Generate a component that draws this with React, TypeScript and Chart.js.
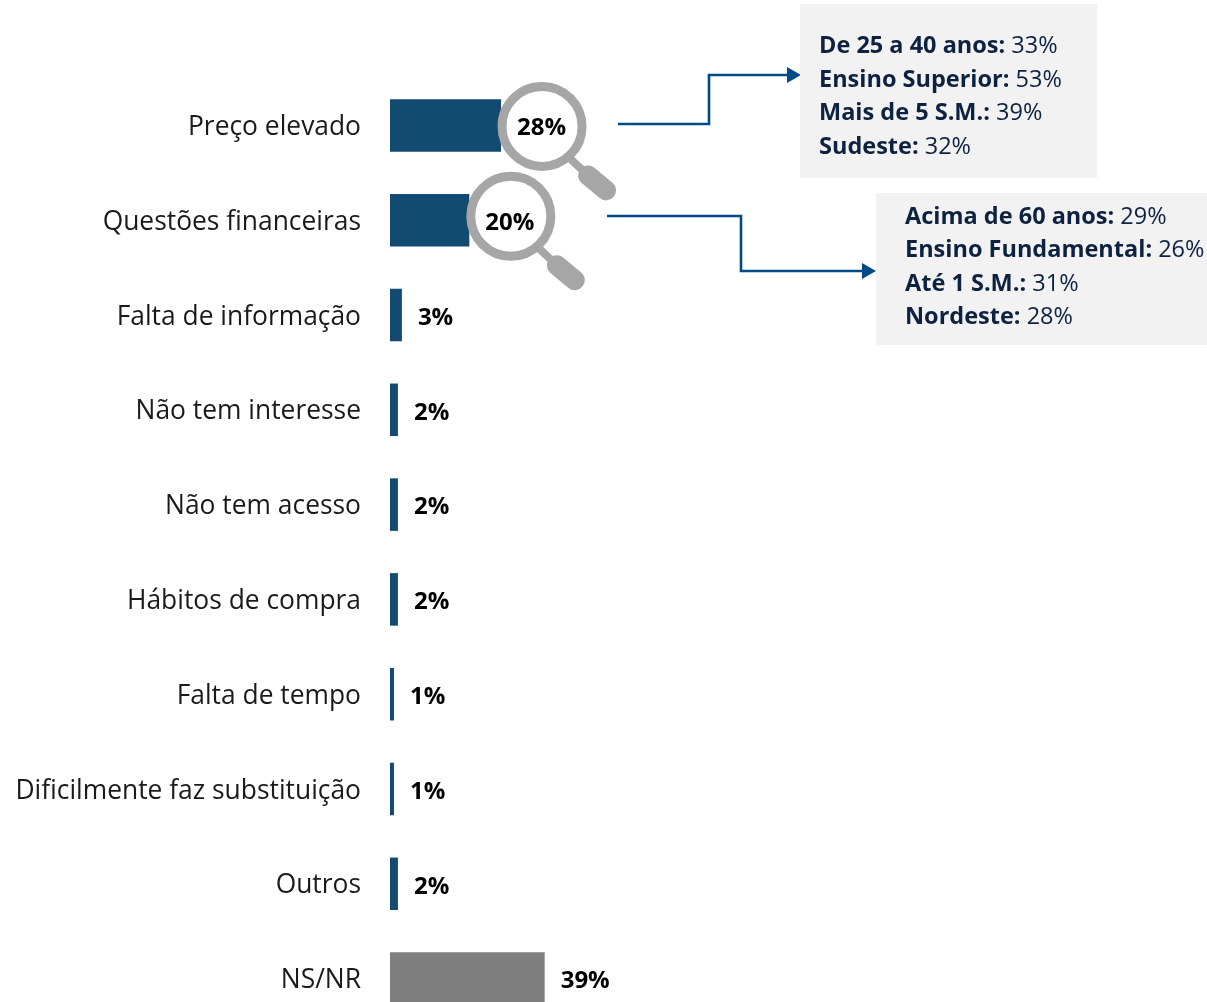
import React, { useEffect, useRef } from "react";
import { Chart, registerables } from "chart.js";

Chart.register(...registerables);

const categories = ["Preço elevado", "Questões financeiras", "Falta de informação", "Não tem interesse", "Não tem acesso", "Hábitos de compra", "Falta de tempo", "Dificilmente faz substituição", "Outros", "NS/NR"];
const values = [28, 20, 3, 2, 2, 2, 1, 1, 2, 39];
const valueLabels = ["28%", "20%", "3%", "2%", "2%", "2%", "1%", "1%", "2%", "39%"];
const barColors = ["#124a72", "#124a72", "#124a72", "#124a72", "#124a72", "#124a72", "#124a72", "#124a72", "#124a72", "#7f7f7f"];
const firstCallout = [["De 25 a 40 anos:", " 33%"], ["Ensino Superior:", " 53%"], ["Mais de 5 S.M.:", " 39%"], ["Sudeste:", " 32%"]];
const secondCallout = [["Acima de 60 anos:", " 29%"], ["Ensino Fundamental:", " 26%"], ["Até 1 S.M.:", " 31%"], ["Nordeste:", " 28%"]];

const FONT = '"Open Sans"';
const INK = "#0d2240";
const LINK = "#004b87";

function magnifier(ctx: CanvasRenderingContext2D, cx: number, cy: number) {
  ctx.save();
  ctx.strokeStyle = "#a6a6a6";
  ctx.fillStyle = "#ffffff";
  ctx.lineWidth = 9;
  ctx.beginPath();
  ctx.arc(cx, cy, 40, 0, Math.PI * 2);
  ctx.fill();
  ctx.stroke();
  ctx.lineCap = "round";
  ctx.lineWidth = 8;
  ctx.beginPath();
  ctx.moveTo(cx + 30, cy + 34);
  ctx.lineTo(cx + 46, cy + 49);
  ctx.stroke();
  ctx.lineWidth = 20;
  ctx.beginPath();
  ctx.moveTo(cx + 46, cy + 49);
  ctx.lineTo(cx + 64, cy + 64);
  ctx.stroke();
  ctx.restore();
}

function link(ctx: CanvasRenderingContext2D, pts: number[][]) {
  ctx.save();
  ctx.strokeStyle = LINK;
  ctx.fillStyle = LINK;
  ctx.lineWidth = 2.6;
  ctx.beginPath();
  pts.forEach((p, i) => (i ? ctx.lineTo(p[0], p[1]) : ctx.moveTo(p[0], p[1])));
  ctx.stroke();
  const [x, y] = pts[pts.length - 1];
  ctx.beginPath();
  ctx.moveTo(x + 14, y);
  ctx.lineTo(x, y - 8);
  ctx.lineTo(x, y + 8);
  ctx.closePath();
  ctx.fill();
  ctx.restore();
}

function callout(ctx: CanvasRenderingContext2D, box: number[], x: number, ys: number[], lines: string[][]) {
  ctx.save();
  ctx.fillStyle = "#f2f2f2";
  ctx.fillRect(box[0], box[1], box[2], box[3]);
  ctx.fillStyle = INK;
  ctx.textBaseline = "middle";
  ctx.textAlign = "left";
  lines.forEach((l, i) => {
    ctx.font = `700 23.5px ${FONT}`;
    ctx.fillText(l[0], x, ys[i]);
    const w = ctx.measureText(l[0]).width;
    ctx.font = `400 23.5px ${FONT}`;
    ctx.fillText(l[1], x + w, ys[i]);
  });
  ctx.restore();
}

const overlay = {
  id: "overlay",
  afterDatasetsDraw(chart: any) {
    const ctx = chart.ctx as CanvasRenderingContext2D;
    const bars = chart.getDatasetMeta(0).data;
    magnifier(ctx, bars[0].x + 41, bars[0].y + 1);
    magnifier(ctx, bars[1].x + 41.5, bars[1].y - 4);
    ctx.save();
    ctx.fillStyle = "#000000";
    ctx.font = `700 24px ${FONT}`;
    ctx.textBaseline = "middle";
    ctx.textAlign = "left";
    bars.forEach((b: any, i: number) => ctx.fillText(valueLabels[i], b.x + 16, b.y + 3));
    ctx.restore();
    link(ctx, [[618, 124], [709, 124], [709, 75], [787, 75]]);
    link(ctx, [[607, 216], [741, 216], [741, 271], [862, 271]]);
    callout(ctx, [800, 4, 297, 174], 819, [46, 80, 113, 147], firstCallout);
    callout(ctx, [876, 193, 331, 152], 905, [217, 250, 284, 317], secondCallout);
  },
};

export default function App() {
  const ref = useRef<HTMLCanvasElement>(null);
  useEffect(() => {
    const chart = new Chart(ref.current!, {
      type: "bar",
      data: { labels: categories, datasets: [{ data: values, backgroundColor: barColors, categoryPercentage: 0.554, barPercentage: 1 }] },
      options: {
        indexAxis: "y",
        animation: false,
        responsive: false,
        layout: { padding: { top: 78, bottom: 0, left: 0, right: 0 } },
        plugins: { legend: { display: false }, tooltip: { enabled: false } },
        scales: {
          x: { min: 0, max: 206, display: false },
          y: {
            grid: { display: false },
            border: { display: false },
            ticks: { color: "#1a1a1a", padding: 21, labelOffset: 2, font: { family: "Open Sans", size: 26.4 }, autoSkip: false },
            afterFit(s: any) { s.width = 390; s.paddingTop = 0; s.paddingBottom = 0; },
          },
        },
      },
      plugins: [overlay],
    } as any);
    return () => chart.destroy();
  }, []);
  return (
    <div style={{ position: "fixed", left: 0, top: 0, width: 1207, height: 1002, overflow: "hidden", background: "#fff" }}>
      <canvas ref={ref} width={1207} height={1026} style={{ display: "block", position: "absolute", left: 0, top: 0 }} />
    </div>
  );
}
